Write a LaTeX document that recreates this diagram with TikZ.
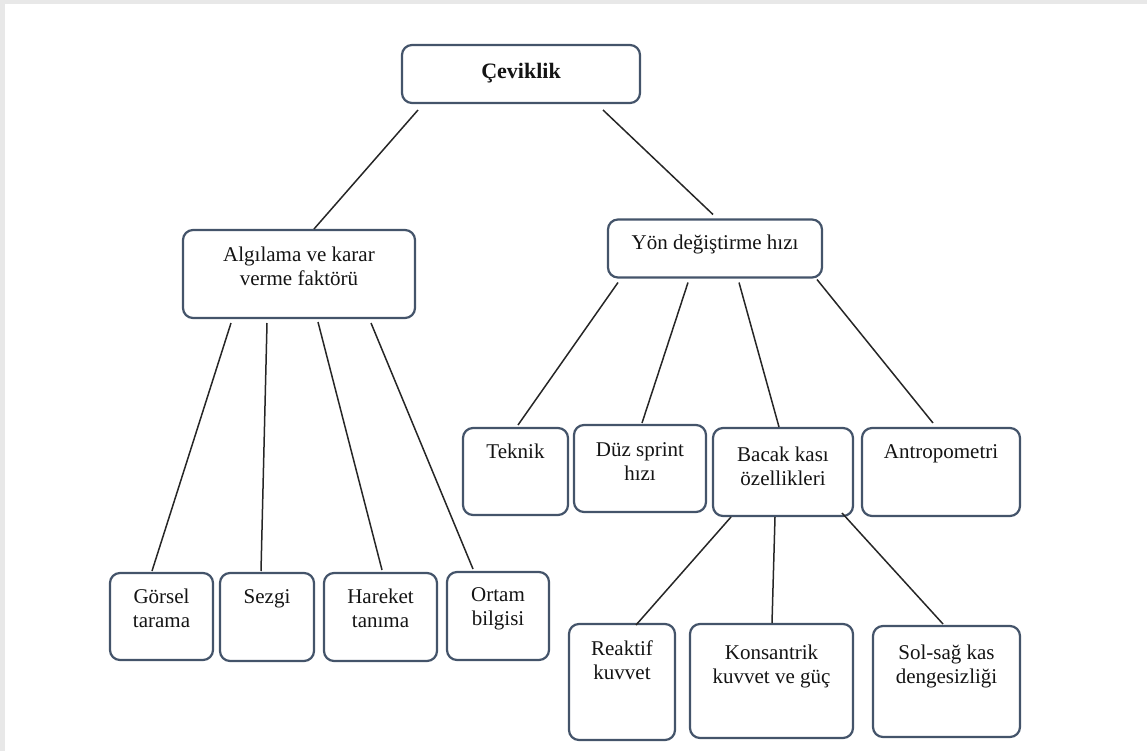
\documentclass[tikz,border=0pt]{standalone}
\usepackage{fontspec}
\setmainfont{Liberation Serif}
\usetikzlibrary{calc}
\definecolor{boxline}{HTML}{44546A}
\definecolor{framegray}{HTML}{E8E8E8}
\definecolor{textc}{HTML}{141414}
% width, height, top pad, text
\newcommand{\bxt}[4]{\parbox[c][#2pt][t]{#1pt}{\centering\fontsize{21}{24}\selectfont\vspace*{#3pt}\strut#4\par}}
\begin{document}
\begin{tikzpicture}[x=1pt,y=-1pt,
  box/.style={draw=boxline, line width=2.2pt, rounded corners=10pt, inner sep=0pt, outer sep=0pt, fill=white, text=textc},
  link/.style={draw=black!85, line width=1.5pt}]
\useasboundingbox (0,0) rectangle (1147,751);
\fill[framegray] (0,0) rectangle (1147,4);
\fill[framegray] (0,0) rectangle (5,751);

% nodes
\node[box] (cev) at (521,74)    {\bxt{238}{58}{17}{\fontsize{22}{24}\selectfont\textbf{Çeviklik}}};
\node[box] (alg) at (299,274)   {\bxt{232}{88}{15}{Algılama ve karar\\verme faktörü}};
\node[box] (yon) at (715,248.5) {\bxt{214}{58}{13}{Yön değiştirme hızı}};

\node[box] (tek) at (515.5,471.5) {\bxt{105}{87}{14}{Teknik}};
\node[box] (duz) at (640,468.5)   {\bxt{132}{87}{15}{Düz sprint\\hızı}};
\node[box] (bac) at (783,472)     {\bxt{140}{88}{17}{Bacak kası\\özellikleri}};
\node[box] (ant) at (941,472)     {\bxt{158}{88}{14}{Antropometri}};

\node[box] (gor) at (161.5,616.5) {\bxt{103}{87}{14}{Görsel\\tarama}};
\node[box] (sez) at (267,617)     {\bxt{94}{88}{14}{Sezgi}};
\node[box] (har) at (380.5,617)   {\bxt{113}{88}{14}{Hareket\\tanıma}};
\node[box] (ort) at (498,616)     {\bxt{102}{88}{13}{Ortam\\bilgisi}};

\node[box] (rea) at (622,682)     {\bxt{106}{116}{15}{Reaktif\\kuvvet}};
\node[box] (kon) at (771.5,681)   {\bxt{163}{114}{19}{Konsantrik\\kuvvet ve güç}};
\node[box] (sol) at (946.5,681.5) {\bxt{147}{111}{17}{Sol-sağ kas\\dengesizliği}};

% connectors
\draw[link] ($(cev.south west)+(16,7)$)  -- ($(alg.north west)+(131,-1)$);
\draw[link] ($(cev.south west)+(201,7)$) -- ($(yon.north west)+(105,-5)$);

\draw[link] ($(alg.south west)+(48,5)$)  -- ($(gor.north west)+(42,-2)$);
\draw[link] ($(alg.south west)+(84,5)$)  -- ($(sez.north west)+(41,-2)$);
\draw[link] ($(alg.south west)+(135,4)$) -- ($(har.north west)+(58,-3)$);
\draw[link] ($(alg.south west)+(188,5)$) -- ($(ort.north west)+(26,-3)$);

\draw[link] ($(yon.south west)+(10,5)$)  -- ($(tek.north west)+(55,-3)$);
\draw[link] ($(yon.south west)+(80,5)$)  -- ($(duz.north west)+(68,-2)$);
\draw[link] ($(yon.south west)+(131,5)$) -- ($(bac.north west)+(66,-1)$);
\draw[link] ($(yon.south west)+(209,2)$) -- ($(ant.north west)+(71,-5)$);

\draw[link] ($(bac.south west)+(18,1)$)  -- ($(rea.north west)+(67,1)$);
\draw[link] ($(bac.south west)+(62,1)$)  -- ($(kon.north west)+(82,-1)$);
\draw[link] ($(bac.south west)+(129,-3)$) -- ($(sol.north west)+(70,-2)$);
\end{tikzpicture}
\end{document}
